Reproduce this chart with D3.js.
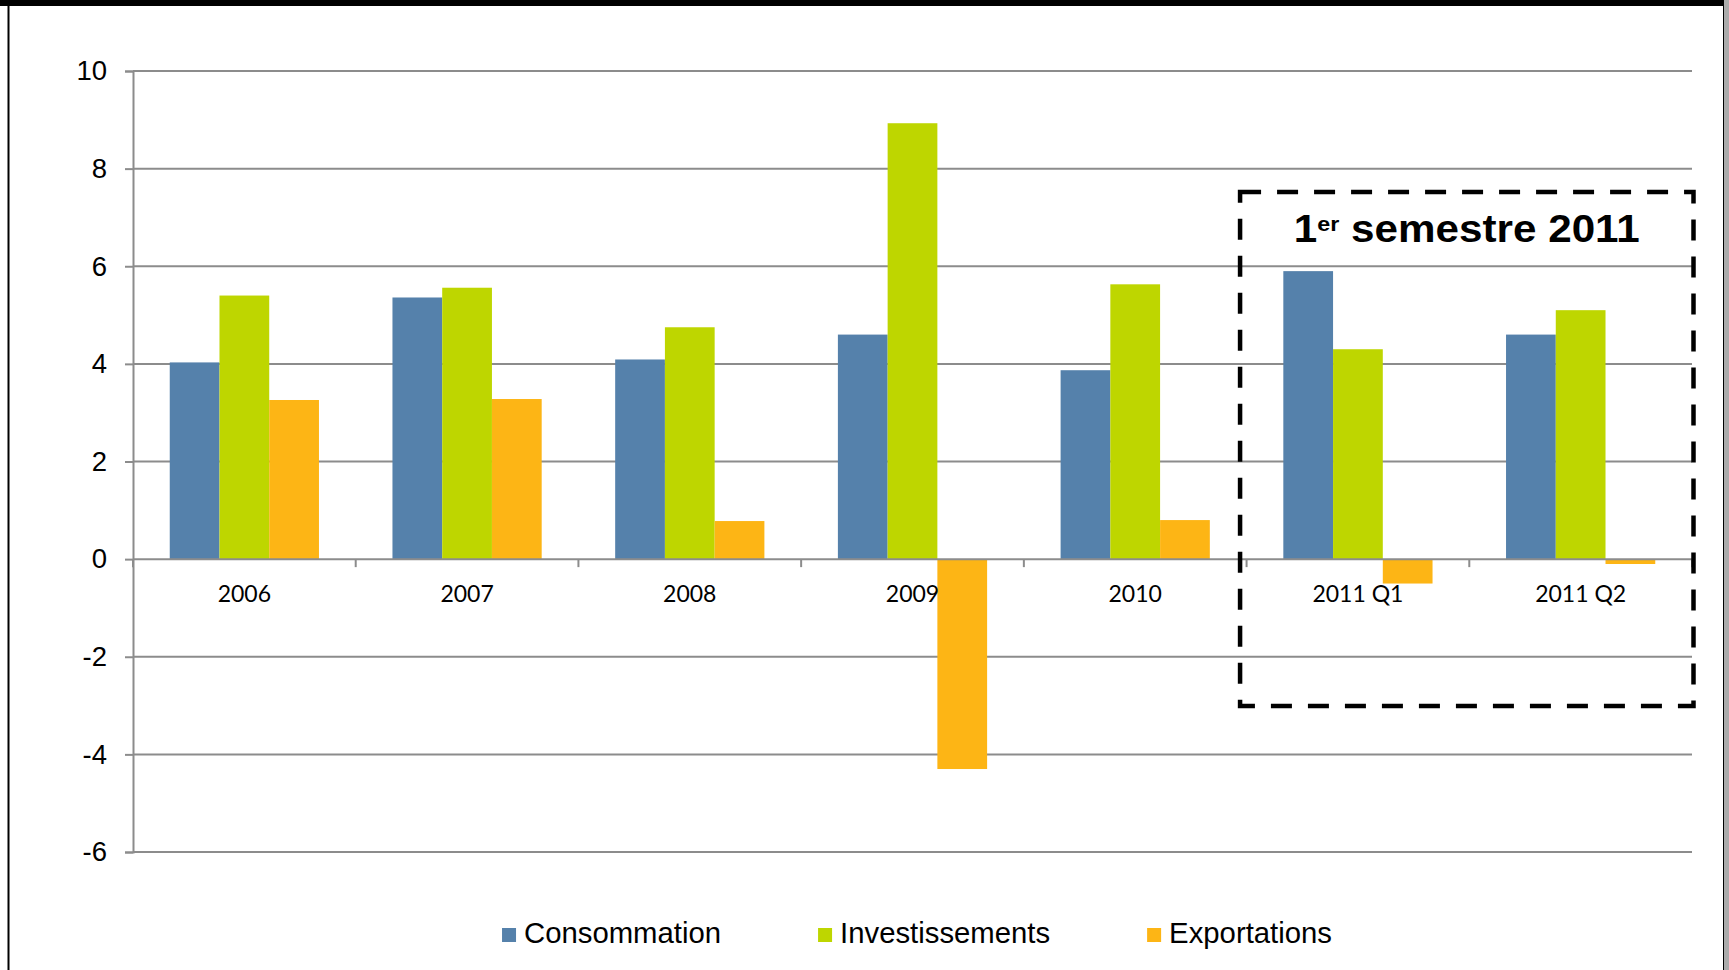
<!DOCTYPE html>
<html>
<head>
<meta charset="utf-8">
<script src="https://cdn.jsdelivr.net/npm/d3@7"></script>
<style>
  html, body { margin: 0; padding: 0; background: #fff; }
  svg { display: block; }
</style>
</head>
<body>
<svg id="chart" width="1729" height="970"></svg>
<script>
// Contributions à la croissance (points de %)
const categories = ["2006", "2007", "2008", "2009", "2010", "2011 Q1", "2011 Q2"];
const seriesNames = ["Consommation", "Investissements", "Exportations"];
const consommation = [4.03, 5.36, 4.09, 4.60, 3.87, 5.90, 4.60];
const investissements = [5.40, 5.56, 4.75, 8.93, 5.63, 4.30, 5.10];
const exportations = [3.26, 3.28, 0.78, -4.30, 0.80, -0.50, -0.10];
const yTicks = [-6, -4, -2, 0, 2, 4, 6, 8, 10];
const colors = ["#5581ab", "#bed600", "#fdb515"];
const highlightCats = ["2011 Q1", "2011 Q2"];

const seriesValues = [consommation, investissements, exportations];
const rows = categories.map((c, i) => ({
  cat: c,
  vals: seriesNames.map((s, k) => ({ key: s, value: seriesValues[k][i], color: colors[k] }))
}));

const svg = d3.select("#chart");
const W = 1729, H = 970;
const plot = { left: 133, right: 1692, top: 71, bottom: 852 };

svg.append("rect").attr("width", W).attr("height", H).attr("fill", "#fff");

// frame
svg.append("rect").attr("x", 0).attr("y", 0).attr("width", 1723).attr("height", 6).attr("fill", "#000");
svg.append("rect").attr("x", 7.5).attr("y", 0).attr("width", 2).attr("height", H).attr("fill", "#000");
svg.append("rect").attr("x", 1723).attr("y", 0).attr("width", 1).attr("height", H).attr("fill", "#000");
svg.append("rect").attr("x", 1724).attr("y", 0).attr("width", 5).attr("height", H).attr("fill", "#ababab");

const y = d3.scaleLinear().domain([-6, 10]).range([plot.bottom, plot.top]);
const x = d3.scaleBand().domain(categories).range([plot.left, plot.right]).paddingInner(0.33).paddingOuter(0.165);
const xs = d3.scaleBand().domain(seriesNames).range([0, x.bandwidth()]);
const step = x.step();

const gridColor = "#8c8c8c";

// horizontal grid
svg.append("g").selectAll("line").data(yTicks.filter(t => t !== 0)).join("line")
  .attr("x1", plot.left).attr("x2", plot.right)
  .attr("y1", d => y(d)).attr("y2", d => y(d))
  .attr("stroke", gridColor).attr("stroke-width", 2);

// y axis
const yAxis = svg.append("g")
  .attr("transform", `translate(${plot.left},0)`)
  .call(d3.axisLeft(y).tickValues(yTicks).tickSize(8).tickPadding(18).tickFormat(d => String(d)));
yAxis.select(".domain").attr("stroke", gridColor).attr("stroke-width", 2);
yAxis.selectAll(".tick line").attr("stroke", gridColor).attr("stroke-width", 2);
yAxis.selectAll(".tick text")
  .attr("font-family", "'Liberation Sans', Arial, sans-serif")
  .attr("font-size", 27.5).attr("fill", "#000");

// bars
const groups = svg.append("g").selectAll("g").data(rows).join("g")
  .attr("transform", d => `translate(${x(d.cat)},0)`);
groups.selectAll("rect").data(d => d.vals).join("rect")
  .attr("x", d => xs(d.key))
  .attr("width", xs.bandwidth())
  .attr("y", d => y(Math.max(0, d.value)))
  .attr("height", d => Math.abs(y(d.value) - y(0)))
  .attr("fill", d => d.color);

// x axis at zero with category separators
const xAxisG = svg.append("g");
xAxisG.append("line")
  .attr("x1", plot.left).attr("x2", plot.right)
  .attr("y1", y(0)).attr("y2", y(0))
  .attr("stroke", gridColor).attr("stroke-width", 2);
const bounds = d3.range(categories.length + 1).map(i => plot.left + i * step);
xAxisG.selectAll("line.sep").data(bounds).join("line").attr("class", "sep")
  .attr("x1", d => d).attr("x2", d => d)
  .attr("y1", y(0)).attr("y2", y(0) + 8)
  .attr("stroke", gridColor).attr("stroke-width", 2);
xAxisG.selectAll("text").data(categories).join("text")
  .attr("x", d => x(d) + x.bandwidth() / 2)
  .attr("y", y(0) + 43)
  .attr("text-anchor", "middle")
  .attr("font-family", "Lato, 'Open Sans', sans-serif")
  .attr("font-size", 23).attr("fill", "#000")
  .text(d => d);

// highlight box around the first half of 2011
const hx0 = x(highlightCats[0]) - (step - x.bandwidth()) / 2 - 6.5;
const hx1 = x(highlightCats[highlightCats.length - 1]) + x.bandwidth() + (step - x.bandwidth()) / 2 + 1.5;
const boxTop = 192, boxBottom = 706;
svg.append("rect")
  .attr("x", hx0).attr("y", boxTop)
  .attr("width", hx1 - hx0).attr("height", boxBottom - boxTop)
  .attr("fill", "none").attr("stroke", "#000").attr("stroke-width", 4.5)
  .attr("stroke-dasharray", "21 16");

const title = svg.append("text")
  .attr("text-anchor", "start")
  .attr("font-family", "'Liberation Sans', Arial, sans-serif")
  .attr("font-weight", "bold").attr("font-size", 38).attr("fill", "#000");
title.append("tspan").text("1");
title.append("tspan").attr("font-size", 21).attr("dy", -11).text("er");
title.append("tspan").attr("dy", 11).text(" semestre 2011");
const tw = title.node().getComputedTextLength();
const targetW = 346;
const sx = targetW / tw;
const cx = (hx0 + hx1) / 2;
title.attr("transform", `translate(${cx - targetW / 2},242) scale(${sx},1)`);

// legend
const legend = svg.append("g");
const items = legend.selectAll("g").data(seriesNames).join("g");
items.append("rect").attr("width", 14).attr("height", 14).attr("y", -15)
  .attr("fill", (d, i) => colors[i]);
items.append("text").attr("x", 22).attr("y", 0)
  .attr("font-family", "'Liberation Sans', Arial, sans-serif")
  .attr("font-size", 29.3).attr("fill", "#000").text(d => d);
let offs = 0;
const widths = [];
items.each(function () {
  const w = 22 + d3.select(this).select("text").node().getComputedTextLength();
  widths.push(w);
});
const gap = 97;
const totalW = d3.sum(widths) + gap * (widths.length - 1);
const lx0 = 917 - totalW / 2;
items.attr("transform", (d, i) => {
  const t = `translate(${lx0 + offs},943)`;
  offs += widths[i] + gap;
  return t;
});
</script>
</body>
</html>
